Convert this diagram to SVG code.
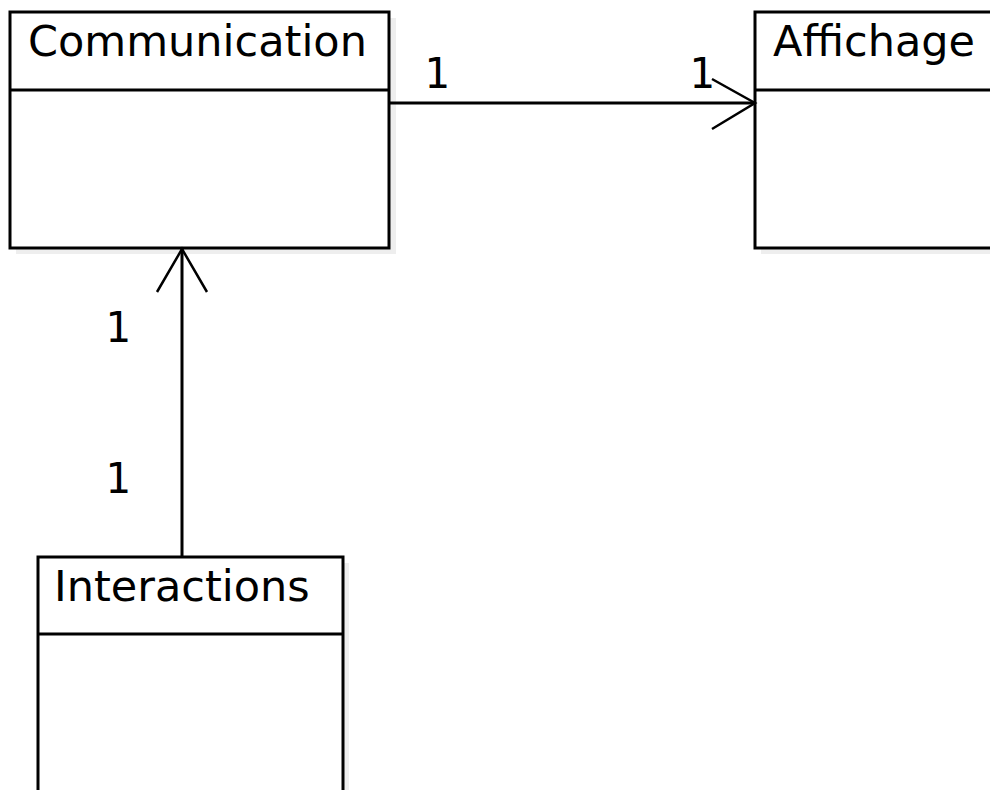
<svg xmlns="http://www.w3.org/2000/svg" width="990" height="790" viewBox="0 0 990 790">
<style>
.box{fill:#fff;stroke:#000;stroke-width:3}
.shadow{fill:#eeeeee}
.div{stroke:#000;stroke-width:3}
.name{font-family:"DejaVu Sans",sans-serif;font-size:43px;fill:#000}
.mult{font-family:"DejaVu Sans Mono",monospace;font-size:42px;fill:#000}
.line{stroke:#000;stroke-width:3;fill:none}
.head{stroke:#000;stroke-width:2.5;fill:none}
</style>
<rect width="990" height="790" fill="#fff"/>
<g id="Communication">
<rect class="shadow" x="16" y="18" width="380" height="236"/>
<rect class="box" x="10" y="12" width="379" height="236"/>
<line class="div" x1="10" y1="90" x2="389" y2="90"/>
<text class="name" x="28" y="56">Communication</text>
</g>
<g id="Affichage">
<rect class="shadow" x="761" y="18" width="240" height="236"/>
<rect class="box" x="755" y="12" width="250" height="236"/>
<line class="div" x1="755" y1="90" x2="995" y2="90"/>
<text class="name" x="773" y="56">Affichage</text>
</g>
<g id="Interactions">
<rect class="shadow" x="44" y="563" width="305" height="240"/>
<rect class="box" x="38" y="557" width="305" height="250"/>
<line class="div" x1="38" y1="634" x2="343" y2="634"/>
<text class="name" x="54" y="601">Interactions</text>
</g>
<g id="connectors">
<line class="line" x1="390" y1="103" x2="755" y2="103"/>
<polyline class="head" points="712,79 755,103 712,129"/>
<line class="line" x1="182" y1="249" x2="182" y2="556"/>
<polyline class="head" points="157,292 182,249 207,292"/>
<text class="mult" x="424" y="88">1</text>
<text class="mult" x="689" y="88">1</text>
<text class="mult" x="105" y="342">1</text>
<text class="mult" x="105" y="493">1</text>
</g>
</svg>
